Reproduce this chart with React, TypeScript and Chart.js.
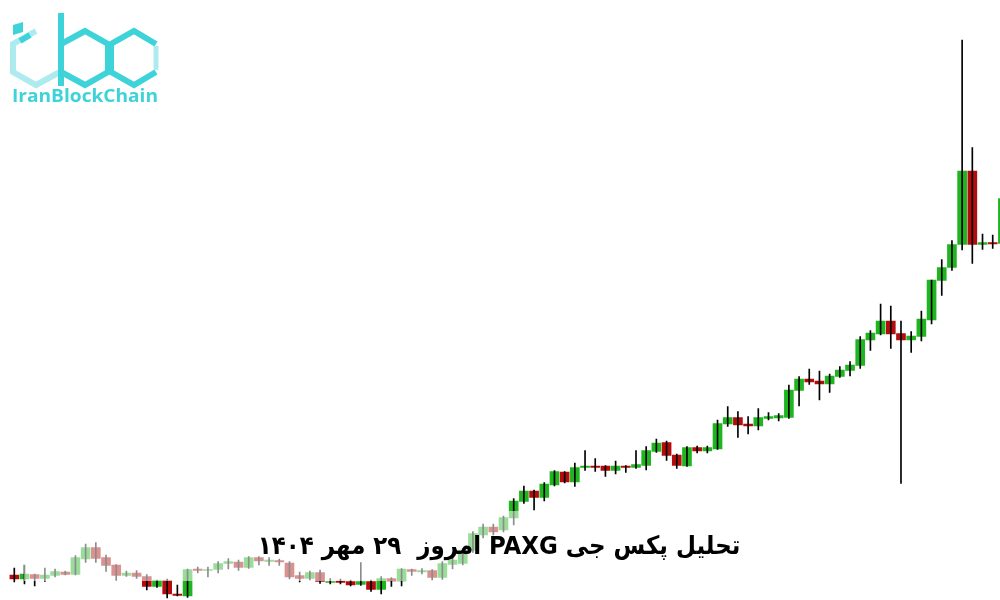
import React, { useEffect, useRef } from "react";
import { Chart, registerables } from "chart.js";

Chart.register(...registerables);

// OHLC values (price units), one per daily candle
const opens = [
  3350, 3342, 3351, 3343, 3349, 3356, 3351, 3382, 3405, 3385,
  3370, 3349, 3354, 3347, 3327, 3339, 3312, 3308, 3362, 3359,
  3361, 3373, 3376, 3365, 3385, 3377, 3379, 3374, 3349, 3343,
  3355, 3335, 3338, 3337, 3331, 3337, 3321, 3343, 3338, 3361,
  3356, 3359, 3345, 3371, 3373, 3399, 3430, 3446, 3440, 3464,
  3497, 3518, 3505, 3530, 3556, 3536, 3565, 3568, 3568, 3559,
  3568, 3565, 3569, 3597, 3615, 3590, 3568, 3605, 3598, 3602,
  3652, 3665, 3652, 3648, 3663, 3664, 3665, 3719, 3742, 3738,
  3732, 3747, 3759, 3769, 3820, 3832, 3858, 3833, 3820, 3827,
  3860, 3939, 3965, 4011, 4158, 4011, 4015, 4013,
];
const highs = [
  3364, 3370, 3352, 3364, 3362, 3358, 3389, 3412, 3415, 3390,
  3371, 3358, 3359, 3351, 3340, 3342, 3330, 3362, 3366, 3366,
  3377, 3383, 3380, 3387, 3387, 3385, 3382, 3377, 3356, 3358,
  3360, 3343, 3342, 3340, 3375, 3340, 3347, 3345, 3363, 3362,
  3363, 3361, 3377, 3390, 3403, 3437, 3452, 3452, 3468, 3503,
  3528, 3520, 3535, 3559, 3557, 3574, 3599, 3583, 3569, 3578,
  3569, 3599, 3607, 3622, 3618, 3592, 3607, 3608, 3608, 3660,
  3687, 3677, 3667, 3683, 3675, 3673, 3730, 3747, 3762, 3758,
  3752, 3767, 3777, 3827, 3839, 3892, 3888, 3858, 3837, 3878,
  3940, 3981, 4019, 4420, 4205, 4032, 4030, 4110,
];
const lows = [
  3336, 3332, 3328, 3337, 3346, 3350, 3350, 3375, 3375, 3357,
  3339, 3347, 3343, 3320, 3325, 3304, 3308, 3305, 3354, 3346,
  3354, 3362, 3359, 3363, 3370, 3369, 3369, 3342, 3336, 3340,
  3333, 3332, 3332, 3328, 3329, 3317, 3312, 3327, 3328, 3349,
  3352, 3340, 3341, 3362, 3370, 3395, 3424, 3430, 3436, 3450,
  3493, 3480, 3498, 3528, 3534, 3527, 3559, 3557, 3547, 3552,
  3555, 3563, 3560, 3595, 3579, 3563, 3567, 3594, 3594, 3601,
  3647, 3625, 3632, 3640, 3660, 3658, 3663, 3688, 3731, 3700,
  3715, 3745, 3748, 3763, 3799, 3830, 3803, 3533, 3795, 3818,
  3852, 3909, 3959, 4000, 3973, 4001, 4003, 4010,
];
const closes = [
  3342, 3352, 3343, 3350, 3357, 3351, 3385, 3405, 3383, 3369,
  3349, 3354, 3347, 3327, 3339, 3312, 3309, 3361, 3359, 3361,
  3373, 3377, 3365, 3385, 3378, 3380, 3376, 3346, 3343, 3355,
  3337, 3337, 3335, 3330, 3337, 3321, 3343, 3338, 3362, 3357,
  3359, 3345, 3373, 3380, 3400, 3433, 3446, 3436, 3465, 3498,
  3518, 3505, 3532, 3557, 3536, 3565, 3568, 3565, 3559, 3568,
  3565, 3571, 3599, 3614, 3589, 3569, 3605, 3598, 3605, 3653,
  3665, 3650, 3648, 3665, 3667, 3669, 3720, 3742, 3736, 3732,
  3748, 3760, 3770, 3821, 3834, 3858, 3832, 3820, 3828, 3862,
  3940, 3965, 4011, 4158, 4011, 4015, 4012, 4103,
];

const startDate = Date.UTC(2025, 6, 14);
const labels = opens.map((_, i) =>
  new Date(startDate + i * 86400000).toISOString().slice(0, 10)
);

const UP = "#21b421";
const DOWN = "#b20c0c";
const TITLE = "تحلیل پکس جی PAXG امروز  ۲۹ مهر ۱۴۰۴";
const BRAND = "IranBlockChain";

const fadePlugin = {
  id: "fadeBand",
  afterDatasetsDraw(chart: any) {
    const ctx = chart.ctx;
    ctx.save();
    ctx.fillStyle = "rgba(255,255,255,0.55)";
    ctx.fillRect(24, 511, 948, 70);
    ctx.restore();
  },
};

function Logo() {
  const C1 = "#3ed3d8";
  const C2 = "#aeebef";
  return (
    <svg
      width={170}
      height={110}
      style={{ position: "absolute", left: 0, top: 0 }}
      viewBox="0 0 170 110"
    >
      {/* i */}
      <polygon points="13,25 23,22 23,32 13,35" fill={C1} />
      <polyline
        points="36,31 13,44 13,72 36,85 60,72"
        fill="none"
        stroke={C2}
        strokeWidth={6}
        strokeLinejoin="miter"
      />
      <line x1={20} y1={41} x2={30} y2={35} stroke={C1} strokeWidth={6} />
      {/* b */}
      <line x1={61} y1={13} x2={61} y2={86} stroke={C1} strokeWidth={6} />
      <polygon
        points="85,31 108,44 108,72 85,85 61,72 61,44"
        fill="none"
        stroke={C1}
        strokeWidth={6}
      />
      {/* c */}
      <polyline
        points="156,44 134,31 111,44 111,72 134,85 156,72"
        fill="none"
        stroke={C1}
        strokeWidth={6}
      />
      <line x1={156} y1={46} x2={156} y2={70} stroke={C2} strokeWidth={5} />
      <text
        x={12}
        y={102}
        fill={C1}
        fontFamily="'Open Sans', sans-serif"
        fontWeight="bold"
        fontSize={18}
        textLength={146}
        lengthAdjust="spacingAndGlyphs"
      >
        {BRAND}
      </text>
    </svg>
  );
}

export default function App() {
  const ref = useRef<HTMLCanvasElement | null>(null);

  useEffect(() => {
    document.body.style.margin = "0";
    const colors = opens.map((o, i) => (closes[i] >= o ? UP : DOWN));
    const chart = new Chart(ref.current as HTMLCanvasElement, {
      type: "bar",
      data: {
        labels,
        datasets: [
          {
            label: "wick",
            data: lows.map((l, i) => [l, highs[i]]) as any,
            backgroundColor: "#000000",
            barThickness: 1,
            grouped: false,
            order: 0,
          } as any,
          {
            label: "body",
            data: opens.map((o, i) => [o, closes[i]]) as any,
            backgroundColor: colors,
            barThickness: 9,
            grouped: false,
            order: 1,
          } as any,
        ],
      },
      options: {
        responsive: false,
        maintainAspectRatio: false,
        animation: false,
        layout: { padding: { left: 9.2, right: 0, top: 0, bottom: 0 } },
        scales: {
          x: { display: false, grid: { display: false } },
          y: { display: false, min: 3300, max: 4500, grid: { display: false } },
        },
        plugins: {
          legend: { display: false },
          tooltip: { enabled: false },
        },
      },
      plugins: [fadePlugin],
    });
    return () => chart.destroy();
  }, []);

  return (
    <div
      style={{
        position: "relative",
        width: 1000,
        height: 600,
        overflow: "hidden",
        background: "#ffffff",
      }}
    >
      <canvas
        ref={ref}
        width={1008}
        height={600}
        style={{ position: "absolute", left: 0, top: 0, display: "block" }}
      />
      <Logo />
      <div
        style={{
          position: "absolute",
          left: 0,
          top: 530,
          width: 998,
          textAlign: "center",
          direction: "rtl",
          whiteSpace: "pre",
          fontFamily: "'DejaVu Sans Condensed', 'DejaVu Sans', sans-serif",
          fontWeight: "bold",
          fontSize: 25.5,
          lineHeight: "30px",
          color: "#000000",
        }}
      >
        {TITLE}
      </div>
    </div>
  );
}
